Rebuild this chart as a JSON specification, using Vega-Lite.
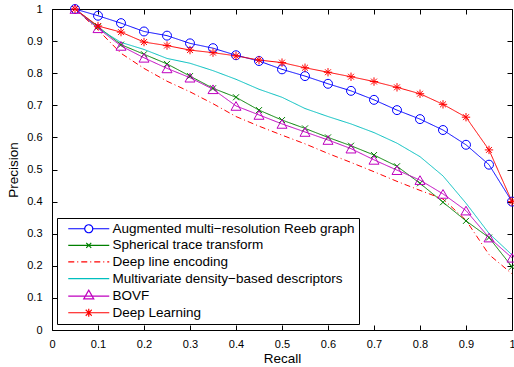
{
  "$schema": "https://vega.github.io/schema/vega-lite/v6.json",
  "autosize": "none",
  "width": 460,
  "height": 321,
  "padding": {"left": 52, "top": 9, "right": 2, "bottom": 37},
  "background": "white",
  "config": {
    "view": {"stroke": "black", "strokeWidth": 1},
    "font": "Liberation Sans",
    "axis": {"grid": false, "domain": false, "tickColor": "black", "tickSize": -5, "labelColor": "black", "labelFont": "Liberation Sans", "labelFontSize": 11, "titleFont": "Liberation Sans", "titleFontSize": 13.5, "titleFontWeight": "normal", "titleColor": "black"}
  },
  "data": {"values": [
    {"s":"Augmented multi−resolution Reeb graph","r":0.05,"p":1.0},
    {"s":"Augmented multi−resolution Reeb graph","r":0.1,"p":0.979},
    {"s":"Augmented multi−resolution Reeb graph","r":0.15,"p":0.956},
    {"s":"Augmented multi−resolution Reeb graph","r":0.2,"p":0.930},
    {"s":"Augmented multi−resolution Reeb graph","r":0.25,"p":0.917},
    {"s":"Augmented multi−resolution Reeb graph","r":0.3,"p":0.893},
    {"s":"Augmented multi−resolution Reeb graph","r":0.35,"p":0.878},
    {"s":"Augmented multi−resolution Reeb graph","r":0.4,"p":0.856},
    {"s":"Augmented multi−resolution Reeb graph","r":0.45,"p":0.838},
    {"s":"Augmented multi−resolution Reeb graph","r":0.5,"p":0.812},
    {"s":"Augmented multi−resolution Reeb graph","r":0.55,"p":0.791},
    {"s":"Augmented multi−resolution Reeb graph","r":0.6,"p":0.767},
    {"s":"Augmented multi−resolution Reeb graph","r":0.65,"p":0.745},
    {"s":"Augmented multi−resolution Reeb graph","r":0.7,"p":0.717},
    {"s":"Augmented multi−resolution Reeb graph","r":0.75,"p":0.685},
    {"s":"Augmented multi−resolution Reeb graph","r":0.8,"p":0.657},
    {"s":"Augmented multi−resolution Reeb graph","r":0.85,"p":0.623},
    {"s":"Augmented multi−resolution Reeb graph","r":0.9,"p":0.577},
    {"s":"Augmented multi−resolution Reeb graph","r":0.95,"p":0.515},
    {"s":"Augmented multi−resolution Reeb graph","r":1.0,"p":0.400},
    {"s":"Spherical trace transform","r":0.05,"p":1.0},
    {"s":"Spherical trace transform","r":0.1,"p":0.945},
    {"s":"Spherical trace transform","r":0.15,"p":0.889},
    {"s":"Spherical trace transform","r":0.2,"p":0.859},
    {"s":"Spherical trace transform","r":0.25,"p":0.829},
    {"s":"Spherical trace transform","r":0.3,"p":0.791},
    {"s":"Spherical trace transform","r":0.35,"p":0.753},
    {"s":"Spherical trace transform","r":0.4,"p":0.725},
    {"s":"Spherical trace transform","r":0.45,"p":0.685},
    {"s":"Spherical trace transform","r":0.5,"p":0.654},
    {"s":"Spherical trace transform","r":0.55,"p":0.628},
    {"s":"Spherical trace transform","r":0.6,"p":0.600},
    {"s":"Spherical trace transform","r":0.65,"p":0.574},
    {"s":"Spherical trace transform","r":0.7,"p":0.545},
    {"s":"Spherical trace transform","r":0.75,"p":0.510},
    {"s":"Spherical trace transform","r":0.8,"p":0.457},
    {"s":"Spherical trace transform","r":0.85,"p":0.398},
    {"s":"Spherical trace transform","r":0.9,"p":0.340},
    {"s":"Spherical trace transform","r":0.95,"p":0.288},
    {"s":"Spherical trace transform","r":1.0,"p":0.197},
    {"s":"Deep line encoding","r":0.05,"p":1.0},
    {"s":"Deep line encoding","r":0.1,"p":0.935},
    {"s":"Deep line encoding","r":0.15,"p":0.862},
    {"s":"Deep line encoding","r":0.2,"p":0.815},
    {"s":"Deep line encoding","r":0.25,"p":0.775},
    {"s":"Deep line encoding","r":0.3,"p":0.742},
    {"s":"Deep line encoding","r":0.35,"p":0.705},
    {"s":"Deep line encoding","r":0.4,"p":0.665},
    {"s":"Deep line encoding","r":0.45,"p":0.635},
    {"s":"Deep line encoding","r":0.5,"p":0.607},
    {"s":"Deep line encoding","r":0.55,"p":0.580},
    {"s":"Deep line encoding","r":0.6,"p":0.550},
    {"s":"Deep line encoding","r":0.65,"p":0.522},
    {"s":"Deep line encoding","r":0.7,"p":0.493},
    {"s":"Deep line encoding","r":0.75,"p":0.463},
    {"s":"Deep line encoding","r":0.8,"p":0.435},
    {"s":"Deep line encoding","r":0.85,"p":0.408},
    {"s":"Deep line encoding","r":0.9,"p":0.342},
    {"s":"Deep line encoding","r":0.95,"p":0.235},
    {"s":"Deep line encoding","r":1.0,"p":0.175},
    {"s":"Multivariate density−based descriptors","r":0.05,"p":1.0},
    {"s":"Multivariate density−based descriptors","r":0.1,"p":0.940},
    {"s":"Multivariate density−based descriptors","r":0.15,"p":0.896},
    {"s":"Multivariate density−based descriptors","r":0.2,"p":0.874},
    {"s":"Multivariate density−based descriptors","r":0.25,"p":0.846},
    {"s":"Multivariate density−based descriptors","r":0.3,"p":0.831},
    {"s":"Multivariate density−based descriptors","r":0.35,"p":0.808},
    {"s":"Multivariate density−based descriptors","r":0.4,"p":0.781},
    {"s":"Multivariate density−based descriptors","r":0.45,"p":0.750},
    {"s":"Multivariate density−based descriptors","r":0.5,"p":0.725},
    {"s":"Multivariate density−based descriptors","r":0.55,"p":0.690},
    {"s":"Multivariate density−based descriptors","r":0.6,"p":0.665},
    {"s":"Multivariate density−based descriptors","r":0.65,"p":0.642},
    {"s":"Multivariate density−based descriptors","r":0.7,"p":0.615},
    {"s":"Multivariate density−based descriptors","r":0.75,"p":0.582},
    {"s":"Multivariate density−based descriptors","r":0.8,"p":0.540},
    {"s":"Multivariate density−based descriptors","r":0.85,"p":0.480},
    {"s":"Multivariate density−based descriptors","r":0.9,"p":0.395},
    {"s":"Multivariate density−based descriptors","r":0.95,"p":0.301},
    {"s":"Multivariate density−based descriptors","r":1.0,"p":0.234},
    {"s":"BOVF","r":0.05,"p":1.0},
    {"s":"BOVF","r":0.1,"p":0.940},
    {"s":"BOVF","r":0.15,"p":0.885},
    {"s":"BOVF","r":0.2,"p":0.848},
    {"s":"BOVF","r":0.25,"p":0.815},
    {"s":"BOVF","r":0.3,"p":0.786},
    {"s":"BOVF","r":0.35,"p":0.750},
    {"s":"BOVF","r":0.4,"p":0.698},
    {"s":"BOVF","r":0.45,"p":0.670},
    {"s":"BOVF","r":0.5,"p":0.642},
    {"s":"BOVF","r":0.55,"p":0.617},
    {"s":"BOVF","r":0.6,"p":0.592},
    {"s":"BOVF","r":0.65,"p":0.565},
    {"s":"BOVF","r":0.7,"p":0.530},
    {"s":"BOVF","r":0.75,"p":0.498},
    {"s":"BOVF","r":0.8,"p":0.467},
    {"s":"BOVF","r":0.85,"p":0.424},
    {"s":"BOVF","r":0.9,"p":0.372},
    {"s":"BOVF","r":0.95,"p":0.288},
    {"s":"BOVF","r":1.0,"p":0.225},
    {"s":"Deep Learning","r":0.05,"p":1.0},
    {"s":"Deep Learning","r":0.1,"p":0.947},
    {"s":"Deep Learning","r":0.15,"p":0.928},
    {"s":"Deep Learning","r":0.2,"p":0.897},
    {"s":"Deep Learning","r":0.25,"p":0.886},
    {"s":"Deep Learning","r":0.3,"p":0.872},
    {"s":"Deep Learning","r":0.35,"p":0.864},
    {"s":"Deep Learning","r":0.4,"p":0.854},
    {"s":"Deep Learning","r":0.45,"p":0.841},
    {"s":"Deep Learning","r":0.5,"p":0.833},
    {"s":"Deep Learning","r":0.55,"p":0.817},
    {"s":"Deep Learning","r":0.6,"p":0.803},
    {"s":"Deep Learning","r":0.65,"p":0.789},
    {"s":"Deep Learning","r":0.7,"p":0.774},
    {"s":"Deep Learning","r":0.75,"p":0.756},
    {"s":"Deep Learning","r":0.8,"p":0.736},
    {"s":"Deep Learning","r":0.85,"p":0.703},
    {"s":"Deep Learning","r":0.9,"p":0.663},
    {"s":"Deep Learning","r":0.95,"p":0.561},
    {"s":"Deep Learning","r":1.0,"p":0.400}
  ]},
  "resolve": {"axis": {"x": "independent", "y": "independent"}},
  "layer": [
    {
      "mark": {"type": "line", "strokeWidth": 1, "clip": true},
      "encoding": {
        "x": {"field": "r", "type": "quantitative", "scale": {"domain": [0, 1], "nice": false, "zero": false},
              "axis": {"orient": "bottom", "title": "Recall", "values": [0,0.1,0.2,0.3,0.4,0.5,0.6,0.7,0.8,0.9,1], "format": "~g", "labelPadding": 13, "titlePadding": 2, "labelFlush": false}},
        "y": {"field": "p", "type": "quantitative", "scale": {"domain": [0, 1], "nice": false, "zero": false},
              "axis": {"orient": "left", "title": "Precision", "values": [0,0.1,0.2,0.3,0.4,0.5,0.6,0.7,0.8,0.9,1], "format": "~g", "labelPadding": 15, "titlePadding": 6, "labelFlush": false}},
        "detail": {"field": "s"},
        "color": {"field": "s", "type": "nominal",
          "scale": {"domain": ["Augmented multi−resolution Reeb graph", "Spherical trace transform", "Deep line encoding", "Multivariate density−based descriptors", "BOVF", "Deep Learning"],
                    "range": ["#0000ff", "#008000", "#ff0000", "#00bfbf", "#bf00bf", "#ff0000"]},
          "legend": {
            "title": null, "orient": "none", "legendX": 5, "legendY": 209,
            "strokeColor": "black", "fillColor": "white", "padding": 4,
            "symbolSize": 100, "symbolStrokeWidth": 1.2, "symbolOffset": 21,
            "labelFont": "Liberation Sans", "labelFontSize": 13.5, "labelColor": "black", "labelOffset": 17,
            "rowPadding": 1.6, "labelLimit": 400,
            "encode": {"symbols": {"update": {
              "fill": {"value": "transparent"},
              "shape": {"signal": "datum.value === 'Augmented multi−resolution Reeb graph' ? 'M-4.1,0H-0.8M0.8,0H4.1M0.8,0A0.8,0.8 0 1 1 -0.8,0A0.8,0.8 0 1 1 0.8,0' : datum.value === 'Spherical trace transform' ? 'M-4.1,0H4.1M-0.5,-0.5L0.5,0.5M-0.5,0.5L0.5,-0.5' : datum.value === 'BOVF' ? 'M-4.1,0H4.1M0,-1.2L1,0.55L-1,0.55Z' : datum.value === 'Deep Learning' ? 'M-4.1,0H4.1M0,-0.8V0.8M-0.6,-0.6L0.6,0.6M-0.6,0.6L0.6,-0.6' : 'M-4.1,0H4.1'"},
              "strokeDash": {"signal": "datum.value === 'Deep line encoding' ? [6,3,1,3] : [1,0]"}
            }}}
          }
        },
        "strokeDash": {"field": "s", "type": "nominal", "legend": null,
          "scale": {"domain": ["Augmented multi−resolution Reeb graph", "Spherical trace transform", "Deep line encoding", "Multivariate density−based descriptors", "BOVF", "Deep Learning"],
                    "range": [[1,0],[1,0],[6,3,1,3],[1,0],[1,0],[1,0]]}}
      }
    },
    {
      "transform": [{"filter": "datum.s === 'Augmented multi−resolution Reeb graph'"}],
      "mark": {"type": "point", "shape": "circle", "filled": false, "size": 80, "strokeWidth": 1, "color": "#0000ff", "opacity": 1},
      "encoding": {
        "x": {"field": "r", "type": "quantitative", "axis": {"orient": "top", "labels": false, "title": null, "values": [0,0.1,0.2,0.3,0.4,0.5,0.6,0.7,0.8,0.9,1]}},
        "y": {"field": "p", "type": "quantitative", "axis": {"orient": "right", "labels": false, "title": null, "values": [0,0.1,0.2,0.3,0.4,0.5,0.6,0.7,0.8,0.9,1]}}
      }
    },
    {
      "transform": [{"filter": "datum.s === 'Spherical trace transform'"}],
      "mark": {"type": "point", "shape": "M-1,-1L1,1M-1,1L1,-1", "filled": false, "size": 36, "strokeWidth": 1, "color": "#008000", "opacity": 1},
      "encoding": {
        "x": {"field": "r", "type": "quantitative", "axis": null},
        "y": {"field": "p", "type": "quantitative", "axis": null}
      }
    },
    {
      "transform": [{"filter": "datum.s === 'BOVF'"}],
      "mark": {"type": "point", "shape": "triangle-up", "filled": false, "size": 100, "strokeWidth": 1, "color": "#bf00bf", "opacity": 1},
      "encoding": {
        "x": {"field": "r", "type": "quantitative", "axis": null},
        "y": {"field": "p", "type": "quantitative", "axis": null}
      }
    },
    {
      "transform": [{"filter": "datum.s === 'Deep Learning'"}],
      "mark": {"type": "point", "shape": "M-1,0H1M0,-1V1M-0.7,-0.7L0.7,0.7M-0.7,0.7L0.7,-0.7", "filled": false, "size": 70, "strokeWidth": 1, "color": "#ff0000", "opacity": 1},
      "encoding": {
        "x": {"field": "r", "type": "quantitative", "axis": null},
        "y": {"field": "p", "type": "quantitative", "axis": null}
      }
    }
  ]
}
